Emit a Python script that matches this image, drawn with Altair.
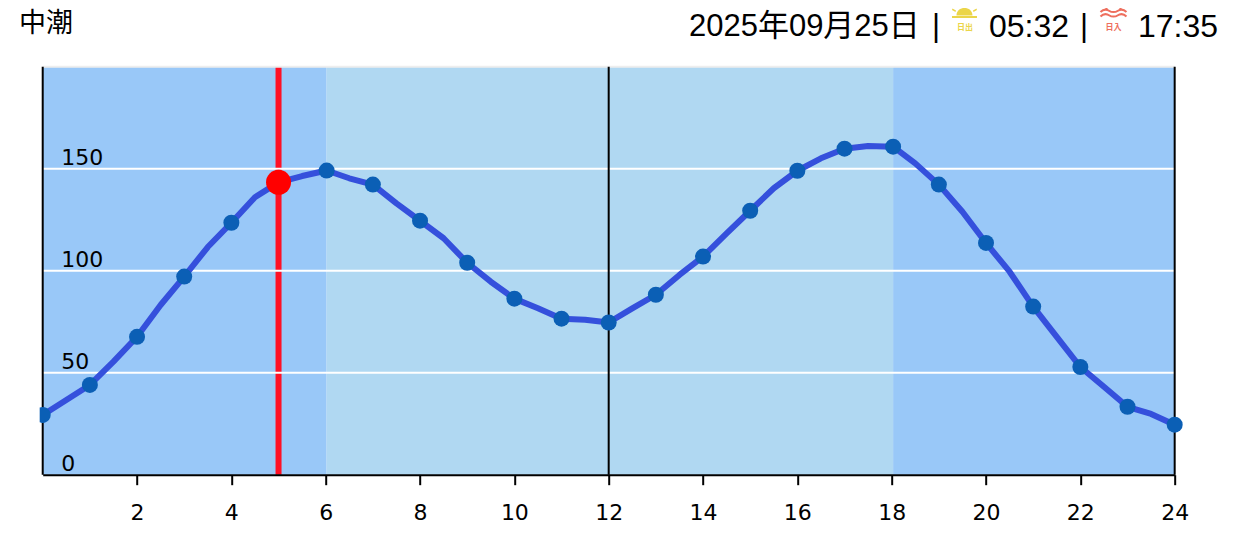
import altair as alt
import pandas as pd

hours = [0, 0.5, 1, 1.5, 2, 2.5, 3, 3.5, 4, 4.5, 5, 5.5,
         6.02, 6.5, 7, 7.5, 8, 8.5, 9, 9.5, 10, 10.5, 11, 11.5,
         12, 12.5, 13, 13.5, 14, 14.5, 15, 15.5, 16, 16.5, 17, 17.5,
         18.03, 18.5, 19, 19.5, 20, 20.5, 21, 21.5, 22, 22.5, 23, 23.5, 24]
tide = [29.3, 36.6, 44.0, 55.4, 67.6, 83.2, 97.1, 111.6, 123.5, 136.0, 143.3, 146.4,
        149.1, 145.3, 142.2, 133.0, 124.5, 115.9, 103.9, 94.6, 86.3, 81.6, 76.5, 76.0,
        74.6, 81.5, 88.2, 97.9, 106.9, 118.3, 129.4, 140.4, 149.0, 155.1, 159.8, 161.1,
        160.8, 152.6, 142.2, 128.9, 113.6, 99.5, 82.4, 67.6, 52.8, 43.1, 33.3, 29.8, 24.5]
now_index = 10
band_start = [0, 6.02, 18.03]
band_end = [6.02, 18.03, 24]
band_color = ["#99C8F8", "#B0D8F2", "#99C8F8"]
grid_values = [50, 100, 150]
vlines = [0, 12, 24]
x_ticks = list(range(2, 25, 2))
y_ticks = [0, 50, 100, 150]

W, H = 1132, 408
FONT = "Liberation Sans, Noto Sans CJK JP"
AXF = "DejaVu Sans"

df = pd.DataFrame({"h": hours, "v": tide})
dots = df[(df.index % 2 == 0) & (df.index != now_index) & (df.index != 0)]
first = df[df.index == 0]
now = df[df.index == now_index]

x = alt.X("h:Q", scale=alt.Scale(domain=[0, 24], nice=False),
          axis=alt.Axis(values=x_ticks, title=None, grid=False, domain=True, domainColor="black",
                        domainWidth=2, tickColor="black", tickWidth=2, tickSize=10, zindex=1,
                        labelFont=AXF, labelFontSize=22, labelColor="black", labelPadding=18,
                        labelFlush=False))
y = alt.Y("v:Q", scale=alt.Scale(domain=[0, 200], nice=False),
          axis=alt.Axis(values=y_ticks, title=None, grid=False, domain=False, ticks=False, zindex=1,
                        labelFont=AXF, labelFontSize=22, labelColor="black", labelAlign="left",
                        labelBaseline="bottom", labelPadding=-18, labelOffset=1))

base_axes = alt.Chart(df).mark_line(opacity=0).encode(x=x, y=y)
bands = alt.Chart(pd.DataFrame({"h": band_start, "b": band_end, "c": band_color})).mark_rect().encode(
    x="h:Q", x2="b:Q",
    y=alt.value(0), y2=alt.value(H), color=alt.Color("c:N", scale=None))
red_rule = alt.Chart(now).mark_rule(color="#FF1025", strokeWidth=6).encode(
    x="h:Q", y=alt.value(0), y2=alt.value(H))
grid = alt.Chart(pd.DataFrame({"v": grid_values})).mark_rule(color="white", strokeWidth=2).encode(
    y="v:Q", x=alt.value(0), x2=alt.value(W))
top = alt.Chart(pd.DataFrame({"v": [200]})).mark_rule(color="#EEEEEE", strokeWidth=2).encode(
    y="v:Q", x=alt.value(0), x2=alt.value(W))
black = alt.Chart(pd.DataFrame({"h": vlines})).mark_rule(color="black", strokeWidth=2).encode(
    x="h:Q", y=alt.value(0), y2=alt.value(H))
line = alt.Chart(df).mark_line(color="#3550DC", strokeWidth=6, strokeJoin="round", interpolate="linear").encode(x="h:Q", y="v:Q")
circles = alt.Chart(dots).mark_circle(color="#0B5FB5", opacity=1, size=256).encode(x="h:Q", y="v:Q")
first_dot = alt.Chart(first).mark_point(
    shape="M-3 -7.42A8 8 0 1 1 -3 7.42Z", size=4, filled=True, color="#0B5FB5", opacity=1
).encode(x="h:Q", y="v:Q")
red_dot = alt.Chart(now).mark_circle(color="#FF0000", opacity=1, size=625).encode(x="h:Q", y="v:Q")


def label(text, px, py, size, color="black", align="left", weight="normal"):
    return alt.Chart(pd.DataFrame({"t": [text]})).mark_text(
        align=align, baseline="middle", fontSize=size, color=color, font=FONT, fontWeight=weight
    ).encode(text="t:N", x=alt.value(px), y=alt.value(py))


OX, OY = 42.7, 66.7
texts = [
    label("中潮", 19 - OX, 24 - OY, 27),
    label("2025年09月25日", 689 - OX, 27 - OY, 31),
    label("|", 932 - OX, 27 - OY, 31),
    label("05:32", 989 - OX, 27 - OY, 32),
    label("|", 1080 - OX, 27 - OY, 31),
    label("17:35", 1138 - OX, 27 - OY, 32),
    label("日出", 965 - OX, 28.5 - OY, 8, "#EBD549", "center", "bold"),
    label("日入", 1113.5 - OX, 28.5 - OY, 8, "#EE6F5E", "center", "bold"),
]

SUN = ("M-8 0C-8 -10 8 -10 8 0ZM-12.5 0.5H12.5V2.5H-12.5Z"
       "M-1 -13H1V-9H-1Z"
       "M-8.6 -11.2L-7 -12.2L-5 -9L-6.6 -8Z M8.6 -11.2L7 -12.2L5 -9L6.6 -8Z"
       "M-12.5 -5.5L-12 -7L-8.5 -5L-9 -3.5Z M12.5 -5.5L12 -7L8.5 -5L9 -3.5Z")
SEA = ("M-7 -3.5C-7 -11 7 -11 7 -3.5M-13 -1C-10 -4 -7 -4 -4 -2C-2 -0.5 2 -0.5 4 -2C7 -4 10 -4 13 -1"
       "M-13 3.5C-10 0.5 -7 0.5 -4 2.5C-2 4 2 4 4 2.5C7 0.5 10 0.5 13 3.5")
sun = alt.Chart(pd.DataFrame({"k": [0]})).mark_point(
    shape=SUN, size=4, filled=True, color="#EBD549", opacity=1
).encode(x=alt.value(964.5 - OX), y=alt.value(15.5 - OY))
sea = alt.Chart(pd.DataFrame({"k": [0]})).mark_point(
    shape=SEA, size=4, filled=False, color="#EE6F5E", strokeWidth=2, opacity=1
).encode(x=alt.value(1113.5 - OX), y=alt.value(13 - OY))

chart = alt.layer(base_axes, bands, red_rule, grid, top, black, line, circles, first_dot, red_dot, sun, sea, *texts).properties(
    width=W, height=H,
    padding={"left": OX - 8, "top": OY - 8, "right": 56, "bottom": 50},
    autosize=alt.AutoSizeParams(type="none"),
    background="white",
).configure_view(stroke=None)

chart.save("out.html", embed_options={"renderer": "svg", "actions": False})
